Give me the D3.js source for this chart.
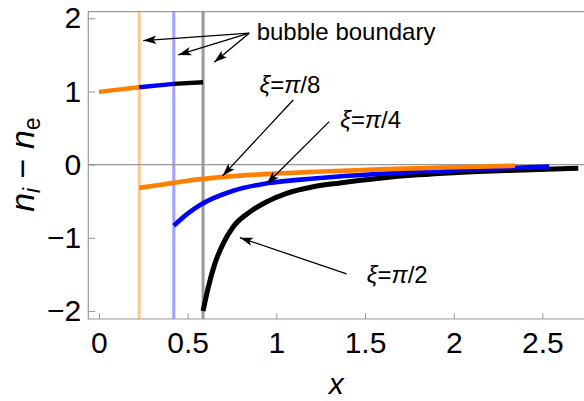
<!DOCTYPE html>
<html>
<head>
<meta charset="utf-8">
<script src="https://cdn.jsdelivr.net/npm/d3@7"></script>
<style>
  html, body { margin: 0; padding: 0; background: #fff; }
  svg { display: block; font-family: 'Liberation Sans', Arial, sans-serif; }
</style>
</head>
<body>
<div id="chart"></div>
<script>
// bubble boundary position for each xi
const xiNames = ['π/8', 'π/4', 'π/2'];
const boundaryX = [0.227, 0.422, 0.587];

// inside the bubble (one piece per xi, joined end to end)
const innerX = [0, 0.227, 0.422, 0.587];
const innerY = [0.994, 1.058, 1.103, 1.126];

// outside the bubble
const outerX8 = [0.227, 0.35, 0.5, 0.7, 1.0, 1.227, 1.584, 2.0, 2.345];
const outerY8 = [-0.318, -0.275, -0.22, -0.168, -0.122, -0.097, -0.065, -0.035, -0.015];
const outerX4 = [0.422, 0.5, 0.57, 0.757, 0.946, 1.227, 1.584, 2.0, 2.538];
const outerY4 = [-0.835, -0.67, -0.552, -0.357, -0.256, -0.187, -0.125, -0.075, -0.025];
const outerX2 = [0.587, 0.617, 0.654, 0.701, 0.757, 0.852, 0.946, 1.058, 1.208, 1.359, 1.584, 1.8, 2.0, 2.3, 2.702];
const outerY2 = [-2.0, -1.67, -1.35, -1.076, -0.849, -0.644, -0.507, -0.392, -0.302, -0.25, -0.185, -0.14, -0.11, -0.08, -0.05];

const xTicks = [0, 0.5, 1, 1.5, 2, 2.5];
const yTicks = [-2, -1, 0, 1, 2];

// annotation arrows [x0, y0, x1, y1] in data units
const arrows = [
  [0.847, 1.796, 0.250, 1.695],
  [0.847, 1.796, 0.447, 1.499],
  [0.847, 1.796, 0.650, 1.399],
  [1.095, 0.884, 0.697, -0.154],
  [1.298, 0.588, 0.945, -0.264],
  [1.396, -1.494, 0.795, -0.998],
];
const labelX = [0.905, 1.36, 1.51];
const labelY = [0.976, 0.497, -1.613];

const width = 584;
const height = 401;
const lineColors = ['#ff7f00', '#0000ff', '#000000'];
const boundaryColors = ['#ffc890', '#a0a0ff', '#999999'];
const frameColor = '#999999';

const xScale = d3.scaleLinear().domain([-0.06, 2.74]).range([88.3, 585]);
const yScale = d3.scaleLinear().domain([-2.11, 2.09]).range([319, 11.7]);

const svg = d3.select('#chart').append('svg')
  .attr('width', width)
  .attr('height', height);

const defs = svg.append('defs');
defs.append('marker')
  .attr('id', 'head')
  .attr('markerUnits', 'userSpaceOnUse')
  .attr('viewBox', '-14 -5 15 10')
  .attr('markerWidth', 15)
  .attr('markerHeight', 10)
  .attr('refX', 0)
  .attr('refY', 0)
  .attr('orient', 'auto')
  .append('path')
  .attr('d', 'M0,0 L-13,-4.2 L-10,0 L-13,4.2 Z')
  .attr('fill', '#000');

const plot = svg.append('g');

// bubble boundaries
plot.selectAll('.boundary')
  .data(boundaryX)
  .enter().append('line')
  .attr('class', 'boundary')
  .attr('x1', d => xScale(d))
  .attr('x2', d => xScale(d))
  .attr('y1', yScale.range()[0])
  .attr('y2', yScale.range()[1])
  .attr('stroke', (d, i) => boundaryColors[i])
  .attr('stroke-width', 3);

// zero line
plot.append('line')
  .attr('x1', xScale.range()[0])
  .attr('x2', xScale.range()[1])
  .attr('y1', yScale(0))
  .attr('y2', yScale(0))
  .attr('stroke', frameColor)
  .attr('stroke-width', 1.2);

// frame (right side is off the picture)
const [fx0, fx1] = xScale.range();
const [fy0, fy1] = yScale.range();
plot.append('path')
  .attr('d', `M${fx1},${fy1} L${fx0},${fy1} L${fx0},${fy0} L${fx1},${fy0}`)
  .attr('fill', 'none')
  .attr('stroke', frameColor)
  .attr('stroke-width', 1.2);

// ticks
const xAxis = plot.append('g')
  .attr('transform', `translate(0,${fy0})`)
  .call(d3.axisBottom(xScale).tickValues(xTicks).tickSize(-6).tickPadding(13)
    .tickFormat(d3.format('~g')));
xAxis.select('.domain').remove();
xAxis.selectAll('line').attr('stroke', frameColor);
xAxis.selectAll('text')
  .attr('fill', '#000')
  .attr('font-size', 30)
  .attr('font-family', "'Liberation Sans', Arial, sans-serif");

const yAxis = plot.append('g')
  .attr('transform', `translate(${fx0},0)`)
  .call(d3.axisLeft(yScale).tickValues(yTicks).tickSize(-7).tickPadding(7)
    .tickFormat(d => (d < 0 ? `\u2212${-d}` : `${d}`)));
yAxis.select('.domain').remove();
yAxis.selectAll('line').attr('stroke', frameColor);
yAxis.selectAll('text')
  .attr('fill', '#000')
  .attr('font-size', 30)
  .attr('font-family', "'Liberation Sans', Arial, sans-serif");

// curves
const line = d3.line()
  .x(d => xScale(d[0]))
  .y(d => yScale(d[1]))
  .curve(d3.curveMonotoneX);

const outer = [
  d3.zip(outerX2, outerY2),
  d3.zip(outerX4, outerY4),
  d3.zip(outerX8, outerY8),
];
const outerColors = [lineColors[2], lineColors[1], lineColors[0]];
const outerWidths = [5, 4.6, 4.6];

plot.selectAll('.outer')
  .data(outer)
  .enter().append('path')
  .attr('class', 'outer')
  .attr('d', line)
  .attr('fill', 'none')
  .attr('stroke', (d, i) => outerColors[i])
  .attr('stroke-width', (d, i) => outerWidths[i]);

const inner = innerX.slice(1).map((x, i) => [[innerX[i], innerY[i]], [x, innerY[i + 1]]]);
plot.selectAll('.inner')
  .data(inner)
  .enter().append('path')
  .attr('class', 'inner')
  .attr('d', line)
  .attr('fill', 'none')
  .attr('stroke', (d, i) => lineColors[i])
  .attr('stroke-width', 4.4);

// annotations
plot.selectAll('.arrow')
  .data(arrows)
  .enter().append('line')
  .attr('class', 'arrow')
  .attr('x1', d => xScale(d[0]))
  .attr('y1', d => yScale(d[1]))
  .attr('x2', d => xScale(d[2]))
  .attr('y2', d => yScale(d[3]))
  .attr('stroke', '#000')
  .attr('stroke-width', 1.3)
  .attr('marker-end', 'url(#head)');

plot.append('text')
  .attr('x', xScale(0.889))
  .attr('y', yScale(1.704))
  .attr('font-size', 24)
  .text('bubble boundary');

const xiText = plot.selectAll('.xi')
  .data(xiNames)
  .enter().append('text')
  .attr('class', 'xi')
  .attr('x', (d, i) => xScale(labelX[i]))
  .attr('y', (d, i) => yScale(labelY[i]))
  .attr('font-size', 24);
xiText.append('tspan').attr('font-style', 'italic').text('ξ');
xiText.append('tspan').text('=');
xiText.append('tspan').attr('font-style', 'italic').text(d => d.slice(0, 1));
xiText.append('tspan').text(d => d.slice(1));

// axis labels
svg.append('text')
  .attr('x', (fx0 + width) / 2)
  .attr('y', 394)
  .attr('text-anchor', 'middle')
  .attr('font-size', 30)
  .attr('font-style', 'italic')
  .text('x');

const yLabel = svg.append('text')
  .attr('transform', `translate(34,${yScale(0)}) rotate(-90)`)
  .attr('text-anchor', 'middle')
  .attr('font-size', 34);
yLabel.append('tspan').attr('font-style', 'italic').text('n');
yLabel.append('tspan').attr('font-style', 'italic').attr('font-size', 23).attr('dy', 6).text('i');
yLabel.append('tspan').attr('dy', -6).text(' \u2212 ');
yLabel.append('tspan').attr('font-style', 'italic').text('n');
yLabel.append('tspan').attr('font-size', 23).attr('dy', 6).text('e');
</script>
</body>
</html>
